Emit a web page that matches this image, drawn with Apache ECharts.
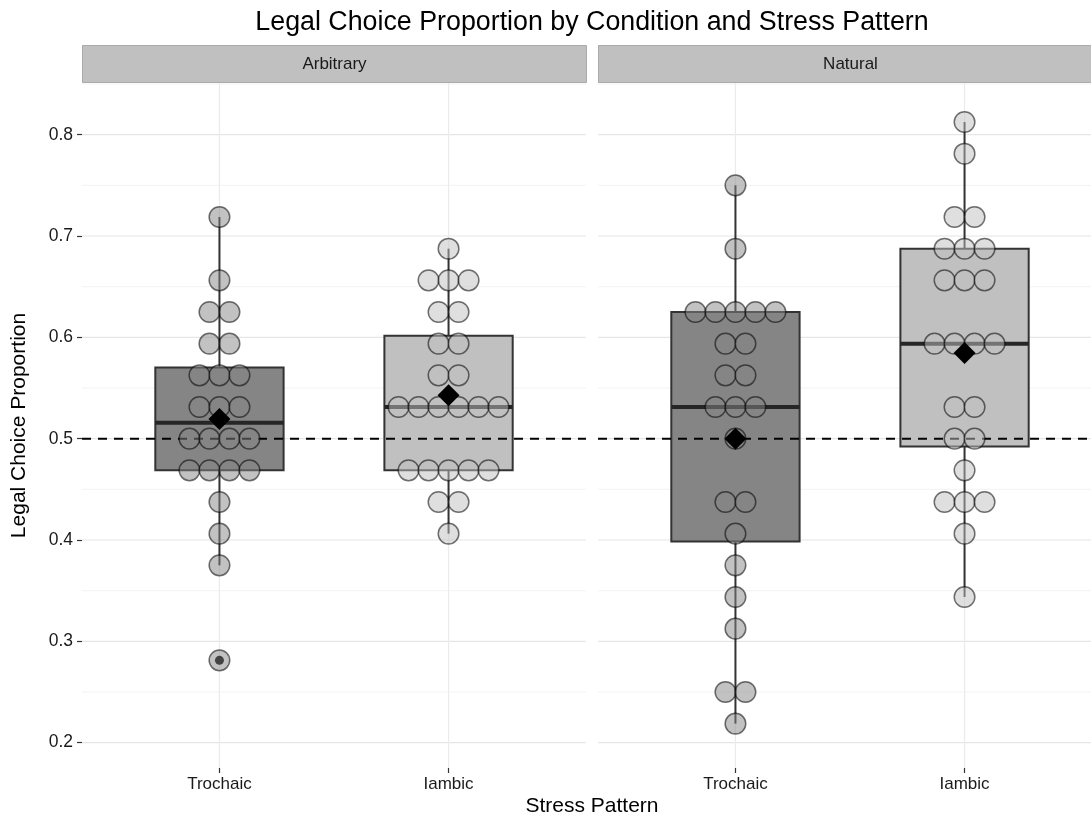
<!DOCTYPE html>
<html>
<head>
<meta charset="utf-8">
<script src="https://cdn.jsdelivr.net/npm/echarts@6/dist/echarts.min.js"></script>
<style>
  html, body { margin: 0; padding: 0; background: #fff; }
  #chart { width: 1091px; height: 818px; }
</style>
</head>
<body>
<div id="chart"></div>
<script>
// facets and x categories
const conditions = ['Arbitrary', 'Natural']
const stressPatterns = ['Trochaic', 'Iambic']

// legal choice proportion per participant (out of 32 trials)
const arbitraryTrochaic = [0.71875, 0.65625, 0.625, 0.625, 0.59375, 0.59375, 0.5625, 0.5625, 0.5625,
  0.53125, 0.53125, 0.53125, 0.5, 0.5, 0.5, 0.5, 0.46875, 0.46875, 0.46875, 0.46875,
  0.4375, 0.40625, 0.375, 0.28125]
const arbitraryIambic = [0.6875, 0.65625, 0.65625, 0.65625, 0.625, 0.625, 0.59375, 0.59375, 0.5625, 0.5625,
  0.53125, 0.53125, 0.53125, 0.53125, 0.53125, 0.53125, 0.46875, 0.46875, 0.46875, 0.46875, 0.46875,
  0.4375, 0.4375, 0.40625]
const naturalTrochaic = [0.75, 0.6875, 0.625, 0.625, 0.625, 0.625, 0.625, 0.59375, 0.59375, 0.5625, 0.5625,
  0.53125, 0.53125, 0.53125, 0.5, 0.4375, 0.4375, 0.40625, 0.375, 0.34375, 0.3125, 0.25, 0.25, 0.21875]
const naturalIambic = [0.8125, 0.78125, 0.71875, 0.71875, 0.6875, 0.6875, 0.6875, 0.65625, 0.65625, 0.65625,
  0.59375, 0.59375, 0.59375, 0.59375, 0.53125, 0.53125, 0.5, 0.5, 0.46875, 0.4375, 0.4375, 0.4375,
  0.40625, 0.34375]

const yTicks = [0.2, 0.3, 0.4, 0.5, 0.6, 0.7, 0.8]
const yMinorTicks = [0.25, 0.35, 0.45, 0.55, 0.65, 0.75, 0.85]
const chanceLevel = 0.5

const panelData = [
  [arbitraryTrochaic, arbitraryIambic],
  [naturalTrochaic, naturalIambic]
]

const FONT = "'Liberation Sans', Arial, Helvetica, sans-serif"
const boxFills = ['#858585', '#c0c0c0']
const dotFills = ['rgba(133,133,133,0.5)', 'rgba(192,192,192,0.5)']
const BOX_WIDTH = 0.56
const DOT_SPACING = 20
const DOT_R = 10.3
const panelLeft = [82, 598]
const panelTop = 83
const panelWidth = 504   // full facet width; the right facet is cut by the canvas edge
const panelHeight = 685
const X_MIN = 0.4
const X_MAX = 2.6
const CANVAS_W = 1091
// the right facet runs past the canvas, so shorten its axis by the hidden part
const pxPerUnit = panelWidth / (X_MAX - X_MIN)
const visibleWidth = [panelWidth, Math.min(panelWidth, CANVAS_W - panelLeft[1])]

// quantile type 7 like R
function quantile(sorted, p) {
  const h = (sorted.length - 1) * p
  const lo = Math.floor(h)
  const hi = Math.ceil(h)
  return sorted[lo] + (sorted[hi] - sorted[lo]) * (h - lo)
}

function boxStats(values) {
  const s = values.slice().sort((a, b) => a - b)
  const q1 = quantile(s, 0.25)
  const med = quantile(s, 0.5)
  const q3 = quantile(s, 0.75)
  const iqr = q3 - q1
  const inside = s.filter(v => v >= q1 - 1.5 * iqr && v <= q3 + 1.5 * iqr)
  const outliers = s.filter(v => v < q1 - 1.5 * iqr || v > q3 + 1.5 * iqr)
  const mean = s.reduce((a, b) => a + b, 0) / s.length
  return { q1, med, q3, lo: inside[0], hi: inside[inside.length - 1], outliers, mean }
}

// centred dot stacks: offset index for each value
function dotStack(values, x, cat) {
  const counts = {}
  values.forEach(v => { counts[v] = (counts[v] || 0) + 1 })
  const seen = {}
  return values.map(v => {
    const i = seen[v] || 0
    seen[v] = i + 1
    return [x, v, i - (counts[v] - 1) / 2, cat]
  })
}

function hlineSeries(p, values, color, width, dash, z) {
  return {
    type: 'custom', xAxisIndex: p, yAxisIndex: p, z: z, silent: true,
    data: values.map(v => [1, v]),
    renderItem(params, api) {
      const cs = params.coordSys
      const y = api.coord([1, api.value(1)])[1]
      return {
        type: 'line',
        shape: { x1: cs.x, y1: y, x2: cs.x + cs.width, y2: y },
        style: { stroke: color, lineWidth: width, lineDash: dash }
      }
    }
  }
}

function vlineSeries(p) {
  return {
    type: 'custom', xAxisIndex: p, yAxisIndex: p, z: 0, silent: true,
    data: stressPatterns.map((s, i) => [i + 1, chanceLevel]),
    renderItem(params, api) {
      const cs = params.coordSys
      const x = api.coord([api.value(0), chanceLevel])[0]
      return {
        type: 'line',
        shape: { x1: x, y1: cs.y, x2: x, y2: cs.y + cs.height },
        style: { stroke: '#ebebeb', lineWidth: 1.2 }
      }
    }
  }
}

const series = []
const xAxes = []
const yAxes = []
const grids = []

conditions.forEach((cond, p) => {
  grids.push({ left: panelLeft[p], top: panelTop, width: visibleWidth[p], height: panelHeight })
  xAxes.push({
    type: 'value', gridIndex: p, min: X_MIN, max: X_MIN + visibleWidth[p] / pxPerUnit,
    axisLine: { show: false },
    splitLine: { show: false },
    axisTick: { customValues: [1, 2], length: 5, lineStyle: { color: '#333', width: 1.2 } },
    axisLabel: {
      customValues: [1, 2], margin: 8, fontSize: 17, color: '#1a1a1a', fontFamily: FONT,
      formatter: v => stressPatterns[Math.round(v) - 1]
    }
  })
  yAxes.push({
    type: 'value', gridIndex: p, min: 0.175, max: 0.851,
    axisLine: { show: false },
    splitLine: { show: false },
    axisTick: { show: p === 0, customValues: yTicks, length: 5, lineStyle: { color: '#333', width: 1.2 } },
    axisLabel: {
      show: p === 0, customValues: yTicks, margin: 9, fontSize: 17.5, color: '#1a1a1a', fontFamily: FONT,
      formatter: v => v.toFixed(1)
    },
    name: p === 0 ? 'Legal Choice Proportion' : '',
    nameLocation: 'middle', nameGap: 52,
    nameTextStyle: { fontSize: 21, color: '#000', fontFamily: FONT }
  })

  series.push(hlineSeries(p, yMinorTicks, '#f3f3f3', 1, null, 0))
  series.push(hlineSeries(p, yTicks, '#e6e6e6', 1.2, null, 0))
  series.push(vlineSeries(p))

  const boxes = []
  const outliers = []
  const dots = []
  const means = []
  panelData[p].forEach((vals, c) => {
    const st = boxStats(vals)
    const x = c + 1
    boxes.push([x, st.q1, st.med, st.q3, st.lo, st.hi, c])
    st.outliers.forEach(v => outliers.push([x, v]))
    dotStack(vals, x, c).forEach(d => dots.push(d))
    means.push([x, st.mean])
  })

  series.push({
    type: 'custom', xAxisIndex: p, yAxisIndex: p, z: 1, silent: true,
    data: boxes,
    renderItem(params, api) {
      const x = api.value(0)
      const pQ1 = api.coord([x, api.value(1)])
      const pMed = api.coord([x, api.value(2)])
      const pQ3 = api.coord([x, api.value(3)])
      const pLo = api.coord([x, api.value(4)])
      const pHi = api.coord([x, api.value(5)])
      const half = api.size([BOX_WIDTH, 0])[0] / 2
      const cx = pQ1[0]
      const line = { stroke: '#333', lineWidth: 2 }
      return {
        type: 'group',
        children: [
          { type: 'line', shape: { x1: cx, y1: pHi[1], x2: cx, y2: pQ3[1] }, style: line },
          { type: 'line', shape: { x1: cx, y1: pQ1[1], x2: cx, y2: pLo[1] }, style: line },
          {
            type: 'rect',
            shape: { x: cx - half, y: pQ3[1], width: half * 2, height: pQ1[1] - pQ3[1] },
            style: { fill: boxFills[api.value(6)], stroke: '#333', lineWidth: 2 }
          },
          {
            type: 'line',
            shape: { x1: cx - half, y1: pMed[1], x2: cx + half, y2: pMed[1] },
            style: { stroke: '#262626', lineWidth: 4 }
          }
        ]
      }
    }
  })

  series.push({
    type: 'scatter', xAxisIndex: p, yAxisIndex: p, z: 1, silent: true,
    symbol: 'circle', symbolSize: 9,
    itemStyle: { color: '#000', opacity: 1 },
    data: outliers
  })

  series.push(hlineSeries(p, [chanceLevel], '#000', 2, [9, 7], 2))

  series.push({
    type: 'custom', xAxisIndex: p, yAxisIndex: p, z: 3, silent: true,
    data: dots,
    renderItem(params, api) {
      const pt = api.coord([api.value(0), api.value(1)])
      return {
        type: 'circle',
        shape: { cx: pt[0] + api.value(2) * DOT_SPACING, cy: pt[1], r: DOT_R },
        style: { fill: dotFills[api.value(3)], stroke: 'rgba(0,0,0,0.55)', lineWidth: 1.5 }
      }
    }
  })

  series.push({
    type: 'scatter', xAxisIndex: p, yAxisIndex: p, z: 10, silent: true,
    symbol: 'diamond', symbolSize: 22,
    itemStyle: { color: '#000', opacity: 1 },
    data: means
  })
})

const stripGraphics = conditions.map((cond, p) => ({
  type: 'group',
  left: panelLeft[p],
  top: 45,
  children: [
    {
      type: 'rect',
      shape: { x: 0, y: 0, width: panelWidth, height: 37 },
      style: { fill: '#c0c0c0', stroke: '#aaaaaa', lineWidth: 1 }
    },
    {
      type: 'text',
      x: panelWidth / 2, y: 19,
      style: {
        text: cond, fill: '#1a1a1a', font: '17px ' + FONT,
        textAlign: 'center', textVerticalAlign: 'middle'
      }
    }
  ]
}))

const chart = echarts.init(document.getElementById('chart'), null, { renderer: 'canvas' })
chart.setOption({
  backgroundColor: '#fff',
  animation: false,
  grid: grids,
  xAxis: xAxes,
  yAxis: yAxes,
  series: series,
  graphic: stripGraphics.concat([
    {
      type: 'text', x: 592, y: 23,
      style: {
        text: 'Legal Choice Proportion by Condition and Stress Pattern',
        fill: '#000', font: '26.8px ' + FONT, textAlign: 'center', textVerticalAlign: 'middle'
      }
    },
    {
      type: 'text', x: 592, y: 806,
      style: {
        text: 'Stress Pattern', fill: '#000', font: '21px ' + FONT,
        textAlign: 'center', textVerticalAlign: 'middle'
      }
    }
  ])
})
</script>
</body>
</html>
